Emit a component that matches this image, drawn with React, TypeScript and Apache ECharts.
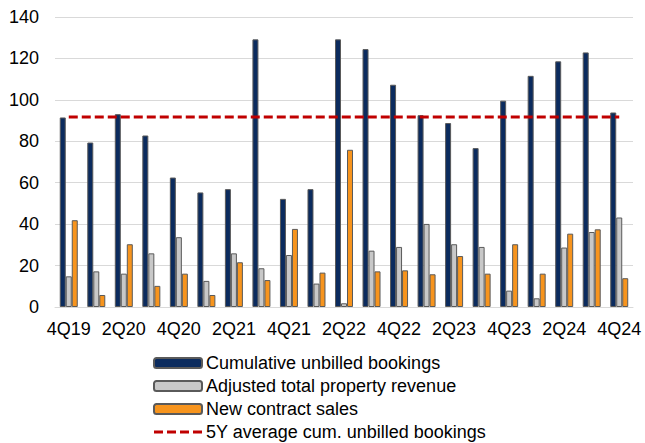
import React, { useEffect, useRef } from "react";
import * as echarts from "echarts";

const quarters = [
  "4Q19", "1Q20", "2Q20", "3Q20", "4Q20", "1Q21", "2Q21", "3Q21", "4Q21", "1Q22",
  "2Q22", "3Q22", "4Q22", "1Q23", "2Q23", "3Q23", "4Q23", "1Q24", "2Q24", "3Q24", "4Q24",
];

const cumulativeUnbilled = [
  91.5, 79.4, 93.1, 82.8, 62.5, 55.3, 56.9, 129.2, 52.2, 56.9,
  129.2, 124.5, 107.3, 92.6, 88.8, 76.7, 99.6, 111.6, 118.6, 122.9, 93.9,
];

const adjustedPropertyRevenue = [
  14.8, 17.2, 16.1, 25.9, 33.7, 12.6, 25.9, 18.7, 25.1, 11.3,
  1.8, 27.2, 29.0, 40.1, 30.3, 29.0, 7.9, 4.2, 28.7, 36.2, 43.2,
];

const newContractSales = [
  41.9, 5.8, 30.3, 10.2, 16.1, 5.8, 21.6, 13.0, 37.7, 16.6,
  75.9, 17.2, 17.7, 15.8, 24.6, 16.1, 30.3, 16.1, 35.4, 37.5, 13.9,
];

const fiveYearAverage = 91.7;

const seriesNames = [
  "Cumulative unbilled bookings",
  "Adjusted total property revenue",
  "New contract sales",
  "5Y average cum. unbilled bookings",
];

const FONT = "'Liberation Sans', Arial, sans-serif";

// Four short dashes, used as the legend swatch of the average line
const DASH_ICON = "path://M0,0h9v3h-9z M13,0h9v3h-9z M26,0h9v3h-9z M39,0h9v3h-9z";

export default function App() {
  const ref = useRef<HTMLDivElement>(null);

  useEffect(() => {
    document.body.style.margin = "0";
    if (!ref.current) return;
    const chart = echarts.init(ref.current, undefined, { renderer: "svg" });
    const barBase = {
      type: "bar" as const,
      barWidth: 6,
      barGap: "0%",
      itemStyle: { borderColor: "#5a5a5a", borderWidth: 1 },
    };
    chart.setOption({
      animation: false,
      textStyle: { fontFamily: FONT },
      grid: { left: 55, right: 12, top: 17, bottom: 136, containLabel: false },
      xAxis: {
        type: "category",
        data: quarters,
        axisTick: { show: false },
        axisLine: { lineStyle: { color: "#d9d9d9", width: 1 } },
        axisLabel: {
          interval: 1,
          fontSize: 18,
          color: "#000",
          margin: 13,
          fontFamily: FONT,
        },
      },
      yAxis: {
        type: "value",
        min: 0,
        max: 140,
        interval: 20,
        axisLine: { show: false },
        axisTick: { show: false },
        splitLine: { lineStyle: { color: "#d9d9d9", width: 1 } },
        axisLabel: { fontSize: 18, color: "#000", margin: 16, fontFamily: FONT },
      },
      legend: {
        orient: "vertical",
        left: 153,
        top: 354,
        padding: 0,
        itemWidth: 48,
        itemHeight: 10,
        itemGap: 5,
        textStyle: { fontSize: 18, color: "#000", fontFamily: FONT, padding: [0, 0, 0, -1] },
        data: [
          seriesNames[0],
          seriesNames[1],
          seriesNames[2],
          {
            name: seriesNames[3],
            icon: DASH_ICON,
            itemStyle: { color: "#c00000", borderWidth: 0 },
          },
        ],
      },
      series: [
        {
          ...barBase,
          name: seriesNames[0],
          data: cumulativeUnbilled,
          itemStyle: { ...barBase.itemStyle, color: "#0b2b5e" },
        },
        {
          ...barBase,
          name: seriesNames[1],
          data: adjustedPropertyRevenue,
          itemStyle: { ...barBase.itemStyle, color: "#c8c8c8" },
        },
        {
          ...barBase,
          name: seriesNames[2],
          data: newContractSales,
          itemStyle: { ...barBase.itemStyle, color: "#f7941d" },
        },
        {
          type: "line",
          name: seriesNames[3],
          data: quarters.map(() => fiveYearAverage),
          symbol: "none",
          lineStyle: { color: "#c00000", width: 3, type: [9, 4] },
          itemStyle: { color: "#c00000" },
          z: 5,
        },
      ],
    });
    return () => chart.dispose();
  }, []);

  return <div ref={ref} style={{ width: 645, height: 443 }} />;
}
